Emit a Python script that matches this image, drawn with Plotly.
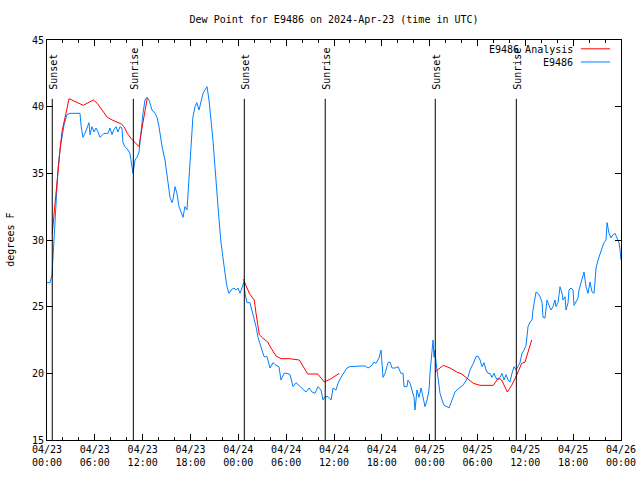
import plotly.graph_objects as go

# ---- data (hours since 2024-04-23 00:00 UTC, dew point in degrees F) ----
obs_hours = [0.0, 0.38, 0.63, 0.88, 1.0, 1.25, 1.38, 1.63, 1.88, 2.13, 2.5, 2.88, 3.26, 4.14, 4.27, 4.5, 4.77, 5.0,
             5.27, 5.4, 5.64, 5.9, 6.15, 6.4, 6.65, 7.15, 7.65, 7.9, 8.15, 8.4, 8.66, 8.9, 9.16, 9.4, 9.53, 9.78,
             10.16, 10.4, 10.66, 10.79, 11.04, 11.29, 11.54, 11.79, 12.04, 12.29, 12.54, 12.8, 13.17, 13.55, 13.8,
             14.05, 14.43, 14.8, 15.18, 15.43, 15.68, 15.8, 16.06, 16.3, 16.56, 16.93, 17.06, 17.3, 17.56, 17.8,
             18.06, 18.3, 18.57, 18.8, 19.07, 19.32, 19.57, 19.82, 20.07, 20.32, 20.57, 20.82, 21.07, 21.32, 21.58,
             21.83, 22.08, 22.33, 22.58, 22.83, 23.08, 23.46, 23.71, 23.96, 24.21, 24.46, 24.71, 24.84, 25.09,
             25.46, 25.72, 25.97, 26.22, 26.47, 26.84, 27.22, 27.6, 27.97, 28.35, 28.73, 29.1, 29.35, 29.73, 30.1,
             30.48, 30.86, 31.23, 31.6, 31.99, 32.49, 32.87, 33.24, 33.62, 34.0, 34.37, 34.62, 34.87, 35.25, 35.63,
             35.88, 36.25, 36.5, 36.88, 37.26, 37.63, 38.0, 38.64, 39.26, 39.9, 40.27, 40.77, 41.02, 41.27, 41.65,
             41.9, 42.15, 42.4, 42.78, 43.03, 43.28, 43.65, 44.03, 44.4, 44.66, 44.78, 45.16, 45.28, 45.54, 46.04,
             46.16, 46.41, 46.66, 46.92, 47.17, 47.42, 47.67, 47.92, 48.04, 48.3, 48.42, 48.55, 48.67, 48.8, 48.92,
             49.05, 49.3, 49.55, 49.8, 50.18, 50.43, 50.68, 50.93, 51.18, 51.43, 51.68, 51.93, 52.18, 52.43, 52.81,
             53.06, 53.31, 53.56, 53.81, 54.06, 54.32, 54.57, 54.82, 55.07, 55.32, 55.57, 55.82, 56.07, 56.32,
             56.57, 56.82, 57.07, 57.33, 57.58, 57.83, 58.08, 58.33, 58.58, 58.83, 59.08, 59.33, 59.58, 59.84,
             60.09, 60.21, 60.34, 60.59, 60.84, 60.96, 61.22, 61.34, 61.59, 61.84, 62.09, 62.22, 62.47, 62.6,
             62.72, 62.97, 63.22, 63.47, 63.73, 63.85, 64.1, 64.23, 64.35, 64.6, 64.73, 64.98, 65.1, 65.36, 65.48,
             65.73, 65.98, 66.11, 66.36, 66.61, 66.73, 66.99, 67.24, 67.36, 67.61, 67.86, 68.11, 68.37, 68.62,
             68.87, 69.12, 69.37, 69.62, 69.87, 70.12, 70.25, 70.5, 70.75, 71.0, 71.25, 71.5, 71.75, 71.88, 72.0]
obs_values = [26.8, 26.8, 27.4, 30.0, 31.9, 34.1, 35.3, 36.8, 37.9, 38.6, 39.4, 39.5, 39.5, 39.5, 38.6, 37.7, 38.0, 38.4,
              38.8, 37.9, 38.5, 38.1, 38.4, 38.1, 37.7, 38.0, 38.0, 38.4, 37.9, 38.3, 38.5, 38.1, 38.5, 38.4, 37.3, 37.0,
              36.75, 36.5, 35.6, 35.0, 36.0, 36.2, 36.6, 38.25, 39.5, 40.5, 40.7, 40.5, 39.75, 39.5, 39.2,
              38.5, 37.0, 36.0, 34.5, 33.2, 32.8, 33.0, 34.0, 33.5, 32.5, 32.0, 31.7, 32.5, 32.25, 34.5,
              37.5, 39.2, 40.0, 40.3, 39.75, 40.5, 41.0, 41.25, 41.5, 40.5, 39.2, 37.5, 35.5, 33.2, 31.5,
              29.8, 28.5, 27.5, 26.5, 26.0, 26.25, 26.4, 26.25, 26.4, 26.0, 26.5, 26.85, 26.0, 25.3,
              25.3, 24.75, 24.15, 23.5, 22.7, 22.0, 21.25, 21.25, 20.4, 20.8, 20.6, 20.5, 19.5, 20.0, 20.0,
              19.9, 19.0, 19.3, 19.1, 18.9, 18.6, 18.9, 18.6, 18.5, 19.0, 18.75, 18.0, 18.25, 18.25, 18.0,
              18.9, 18.75, 19.25, 19.7, 20.1, 20.4, 20.5, 20.55, 20.55, 20.55, 20.4, 20.6, 20.85, 20.75, 21.15,
              21.75, 19.7, 20.0, 20.8, 20.85, 20.4, 20.4, 20.5, 20.0, 20.0, 19.0, 19.0, 19.5, 19.25, 18.2,
              17.25, 18.75, 18.2, 18.9, 18.2, 17.5, 18.0, 18.75, 20.0, 21.75, 22.5, 21.2, 21.75, 20.8, 20.25,
              19.5, 18.5, 18.0, 17.6, 17.5, 17.4, 17.8, 18.2, 18.6, 18.75, 18.9, 19.0, 19.1, 19.35, 19.7,
              20.25, 20.5, 20.85, 21.25, 21.3, 21.0, 20.5, 20.8, 20.25, 20.0, 20.0, 19.7, 20.0, 19.65,
              19.5, 19.7, 20.0, 19.5, 19.9, 19.5, 19.35, 20.0, 20.5, 20.25, 20.5, 20.8, 21.5, 21.75,
              22.1, 22.7, 23.5, 23.85, 24.0, 24.75, 25.5, 26.1, 26.0, 25.75, 25.35, 24.2, 24.15, 24.75,
              25.5, 25.1, 24.75, 25.0, 25.5, 25.0, 25.3, 25.9, 26.5, 26.0, 25.5, 25.75, 24.75, 25.3, 26.25,
              26.4, 26.25, 25.1, 25.35, 25.65, 26.25, 26.8, 27.2, 27.6, 26.5, 26.0, 26.85, 26.1, 26.0,
              27.9, 28.5, 29.0, 29.4, 29.8, 30.0, 31.3, 30.5, 30.15, 30.4, 30.5, 30.15, 29.8, 29.25, 28.5]

ana_hours = [0.66, 0.88, 1.3, 1.5, 1.72, 1.92, 2.22, 2.47, 2.76, 3.39, 4.01, 4.55, 5.06, 5.81, 6.31, 6.94, 7.56, 8.19,
             8.82, 9.32, 9.66, 10.07, 10.57, 11.0, 11.54, 11.87, 12.17, 12.42, 12.58, None,
             24.63, 24.97, 25.38, 25.8, 26.0, 26.22, 26.43, 26.63, 27.06, 27.68, 28.1, 28.73, 29.35, 30.4, 31.65,
             32.08, 32.7, 33.96, 34.79, 35.63, 36.67, None,
             48.67, 49.71, 50.55, 51.39, 52.02, 52.65, 53.48, 54.32, 55.98, 56.61, 57.03, 57.74, 58.29, 58.91,
             59.54, 59.96, 60.38, 60.8]
ana_values = [30.5, 32.0, 34.5, 36.2, 37.3, 38.25, 39.0, 39.75, 40.6, 40.4, 40.25, 40.1, 40.25, 40.5, 40.25, 39.75, 39.2,
              39.0, 38.85, 38.7, 38.5, 38.0, 37.6, 37.35, 37.0, 38.25, 39.2, 40.0, 40.65, None,
              27.05, 26.6, 26.0, 25.65, 25.5, 24.5, 23.8, 22.9, 22.65, 22.35, 21.9, 21.3, 21.1, 21.1, 21.0,
              20.6, 19.95, 19.95, 19.35, 19.6, 20.0, None,
              20.1, 20.6, 20.4, 20.1, 19.95, 19.65, 19.25, 19.1, 19.1, 19.65, 19.5, 18.6, 19.1, 19.85,
              20.75, 20.85, 21.75, 22.5]

event_hours = [0.66, 10.83, 24.75, 34.9, 48.7, 58.87]
event_labels = ["Sunset", "Sunrise", "Sunset", "Sunrise", "Sunset", "Sunrise"]

x_tickvals = [0, 6, 12, 18, 24, 30, 36, 42, 48, 54, 60, 66, 72]
x_ticktext = ["04/23<br>00:00", "04/23<br>06:00", "04/23<br>12:00", "04/23<br>18:00",
              "04/24<br>00:00", "04/24<br>06:00", "04/24<br>12:00", "04/24<br>18:00",
              "04/25<br>00:00", "04/25<br>06:00", "04/25<br>12:00", "04/25<br>18:00", "04/26<br>00:00"]
y_tickvals = [15, 20, 25, 30, 35, 40, 45]

series_names = ["E9486 Analysis", "E9486"]
series_colors = ["#ff0000", "#0080ff"]

FONT = "DejaVu Sans Mono, Liberation Mono, monospace"

fig = go.Figure()
fig.add_trace(go.Scatter(x=obs_hours, y=obs_values, mode="lines", name=series_names[1],
                         line=dict(color=series_colors[1], width=1), showlegend=False))
fig.add_trace(go.Scatter(x=ana_hours, y=ana_values, mode="lines", name=series_names[0],
                         line=dict(color=series_colors[0], width=1), connectgaps=False, showlegend=False))

shapes = []
annotations = []
for h, lab in zip(event_hours, event_labels):
    shapes.append(dict(type="line", xref="x", yref="paper", x0=h, x1=h, y0=0, y1=0.853,
                       line=dict(color="black", width=1)))
    annotations.append(dict(x=h, y=0.87, xref="x", yref="paper", text=lab, textangle=-90,
                            showarrow=False, xanchor="center", yanchor="bottom", xshift=0.5,
                            font=dict(family=FONT, size=10, color="black")))

# legend drawn gnuplot-style (text right-aligned, sample line to the right)
leg_y = [0.976, 0.943]
for name, col, yy in zip(series_names, series_colors, leg_y):
    annotations.append(dict(x=0.919, y=yy, xref="paper", yref="paper", text=name, showarrow=False,
                            xanchor="right", yanchor="middle", font=dict(family=FONT, size=10, color="black")))
    shapes.append(dict(type="line", xref="paper", yref="paper", x0=0.930, x1=0.981, y0=yy + 0.002, y1=yy + 0.002,
                       line=dict(color=col, width=1)))

annotations.append(dict(x=-0.065, y=0.5, xref="paper", yref="paper", text="degrees F", textangle=-90,
                        showarrow=False, xanchor="center", yanchor="middle",
                        font=dict(family=FONT, size=10, color="black")))

fig.update_layout(
    width=640, height=480,
    margin=dict(l=47, r=19, t=40, b=40, autoexpand=False),
    paper_bgcolor="white", plot_bgcolor="white",
    font=dict(family=FONT, size=10, color="black"),
    title=dict(text="Dew Point for E9486 on 2024-Apr-23 (time in UTC)", x=0.522, xanchor="center",
               y=1 - 19 / 480, yanchor="middle", yref="container",
               font=dict(family=FONT, size=10, color="black")),
    shapes=shapes, annotations=annotations, showlegend=False,
)
fig.update_xaxes(range=[0, 72], tickmode="array", tickvals=x_tickvals, ticktext=x_ticktext,
                 ticks="inside", ticklen=6, tickcolor="black", showgrid=False, zeroline=False,
                 showline=True, linecolor="black", linewidth=1, mirror="allticks",
                 minor=dict(tickvals=list(range(0, 73, 2)), ticks="inside", ticklen=3, tickcolor="black",
                            showgrid=False),
                 tickfont=dict(family=FONT, size=10, color="black"))
fig.update_yaxes(range=[15, 45], tickmode="array", tickvals=y_tickvals,
                 ticks="inside", ticklen=6, tickcolor="black", showgrid=False, zeroline=False,
                 showline=True, linecolor="black", linewidth=1, mirror="allticks",
                 tickfont=dict(family=FONT, size=10, color="black"))

fig.write_html("out.html",
               config={"displayModeBar": False},
               post_script="document.body.style.margin='0';document.body.style.padding='0';"
                           "document.body.style.overflow='hidden';")
